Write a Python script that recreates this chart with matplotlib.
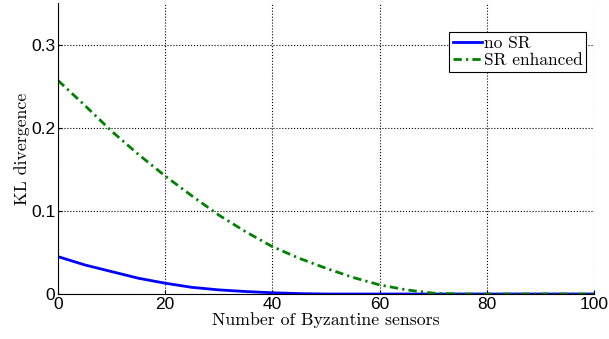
import matplotlib.pyplot as plt

# values
sensors = [0, 5, 10, 15, 20, 25, 30, 35, 40, 45, 50, 55, 60, 65, 70, 75, 80, 85, 90, 95, 100]
kl_no_sr = [0.045, 0.035, 0.027, 0.019, 0.013, 0.008, 0.005, 0.003, 0.0015, 0.0005, 0.0,
            0.0, 0.0, 0.0, 0.0, 0.0, 0.0, 0.0, 0.0, 0.0, 0.0]
kl_sr = [0.257, 0.227, 0.196, 0.168, 0.142, 0.118, 0.095, 0.075, 0.057, 0.043, 0.031,
         0.020, 0.011, 0.005, 0.001, 0.0, 0.0, 0.0, 0.0, 0.0, 0.0]

x_ticks = [0, 20, 40, 60, 80, 100]
y_ticks = [0, 0.1, 0.2, 0.3]
y_tick_labels = ['0', '0.1', '0.2', '0.3']

SERIF = ['cmr10', 'DejaVu Serif']


def graph():
    fig = plt.figure(figsize=(6.09, 3.39), dpi=100)
    ax = fig.add_axes([0.0952, 0.1327, 0.8802, 0.858])
    ax.plot(sensors, kl_no_sr, color='#0000ff', linewidth=2.0, label='no SR')
    ax.plot(sensors, kl_sr, color='#008000', linewidth=2.0,
            dashes=(3, 1.5, 0.8, 1.5), label='SR enhanced')
    ax.set_xlim(0, 100)
    ax.set_ylim(0, 0.35)
    ax.set_xticks(x_ticks)
    ax.set_xticklabels([str(t) for t in x_ticks], fontfamily='Liberation Sans', fontsize=12.5)
    ax.set_yticks(y_ticks)
    ax.set_yticklabels(y_tick_labels, fontfamily='Liberation Sans', fontsize=12.5)
    ax.tick_params(direction='in', length=3, width=0.8, pad=2)
    ax.spines['top'].set_visible(False)
    ax.spines['right'].set_visible(False)
    ax.grid(True, linestyle=':', color='black', linewidth=0.8)
    ax.set_xlabel('Number of Byzantine sensors', fontfamily=SERIF, fontsize=12.8, labelpad=0)
    ax.set_ylabel('KL divergence', fontfamily=SERIF, fontsize=12.8, labelpad=1)
    leg = ax.legend(loc='upper right', bbox_to_anchor=(0.985, 0.90), prop={'family': SERIF, 'size': 12.5},
                    fancybox=False, framealpha=1, edgecolor='black', handlelength=1.7,
                    handletextpad=0.1, borderpad=0.2, labelspacing=0.1, borderaxespad=0)
    leg.get_frame().set_linewidth(0.8)
    fig.savefig('out.png', dpi=100)


if __name__ == '__main__':
    graph()
